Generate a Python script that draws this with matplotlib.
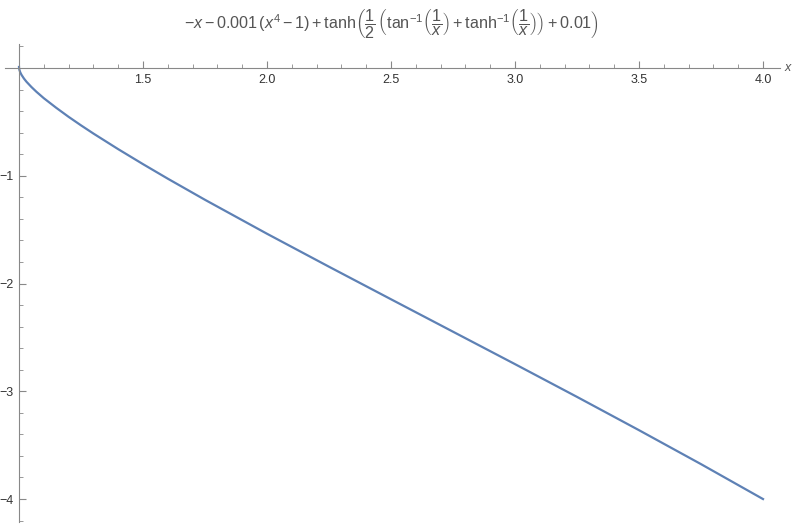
import matplotlib
matplotlib.use('Agg')
import matplotlib.pyplot as plt
from matplotlib.ticker import MultipleLocator, FixedLocator

plt.rcParams['font.family'] = ['Liberation Sans', 'DejaVu Sans']
plt.rcParams['mathtext.fontset'] = 'custom'
plt.rcParams['mathtext.rm'] = 'Liberation Sans'
plt.rcParams['mathtext.it'] = 'Liberation Sans:italic'
plt.rcParams['mathtext.bf'] = 'Liberation Sans:bold'

# values
x_vals = [1.0, 1.0002, 1.001, 1.002, 1.005, 1.01, 1.02, 1.03, 1.05, 1.07,
          1.1, 1.15, 1.2, 1.25, 1.3, 1.4, 1.5, 1.6, 1.75, 2.0, 2.25, 2.5,
          2.75, 3.0, 3.25, 3.5, 3.75, 4.0]
y_vals = [0.01, 0.001, -0.011, -0.020, -0.040, -0.063, -0.098, -0.127,
          -0.176, -0.220, -0.280, -0.369, -0.453, -0.532, -0.608, -0.753,
          -0.892, -1.027, -1.223, -1.538, -1.844, -2.146, -2.447, -2.748,
          -3.052, -3.361, -3.676, -4.000]
x_ticks = [1.5, 2.0, 2.5, 3.0, 3.5, 4.0]
y_ticks = [-1, -2, -3, -4]

title = (r'$-x-0.001\,(x^4-1)+\mathrm{tanh}\left(\dfrac{1}{2}\,\left(\mathrm{tan}^{-1}'
         r'\left(\dfrac{1}{x}\right)+\mathrm{tanh}^{-1}\left(\dfrac{1}{x}\right)\right)'
         r'+0.01\right)$')

W, H = 797, 524
fig = plt.figure(figsize=(W / 100, H / 100), dpi=100)
ax = fig.add_axes([5 / W, 1 - 522 / H, 775 / W, 478 / H])

ax.plot(x_vals, y_vals, color='#5E81B5', linewidth=1.6)

ax.set_xlim(0.9435, 4.0685)
ax.set_ylim(-4.213, 0.223)

axis_col = '#888888'
for s in ['top', 'right']:
    ax.spines[s].set_visible(False)
ax.spines['left'].set_position(('data', 1.0))
ax.spines['bottom'].set_position(('data', 0.0))
ax.spines['left'].set_color(axis_col)
ax.spines['bottom'].set_color(axis_col)

ax.xaxis.set_major_locator(FixedLocator(x_ticks))
ax.xaxis.set_minor_locator(MultipleLocator(0.1))
ax.yaxis.set_major_locator(FixedLocator(y_ticks))
ax.yaxis.set_minor_locator(MultipleLocator(0.2))
ax.set_xticklabels([f'{v:.1f}' for v in x_ticks])
ax.set_yticklabels([f'\u2212{abs(v)}' for v in y_ticks])

ax.tick_params(axis='x', which='both', direction='in', color=axis_col,
               labelcolor='#333333', labelsize=9, pad=4)
ax.tick_params(axis='y', which='both', direction='in', color=axis_col,
               labelcolor='#333333', labelsize=9, pad=4)
ax.tick_params(which='major', length=5, width=0.8)
ax.tick_params(which='minor', length=3, width=0.6)

ax.text(4.0685 + 0.02, 0.0, 'x', fontsize=9, color='#555555', style='italic',
        ha='left', va='center', clip_on=False)

fig.text(392 / W, 1 - 24 / H, title, fontsize=11.6, color='#555555',
         ha='center', va='center')

fig.savefig('out.png', dpi=100)
